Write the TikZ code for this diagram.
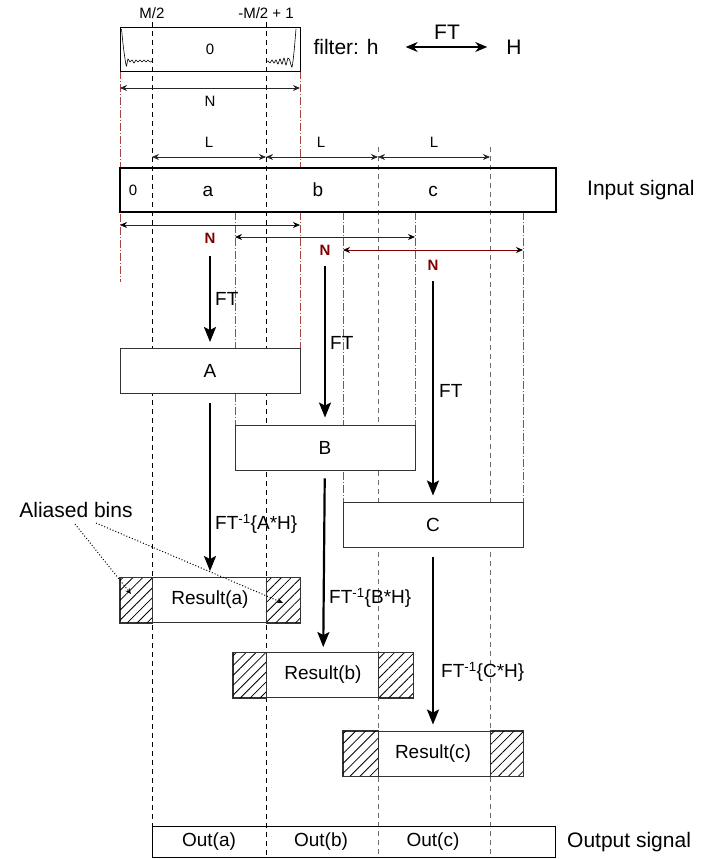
\documentclass[tikz,border=0pt]{standalone}
\usepackage{fontspec}
\setmainfont{Liberation Sans}
\usetikzlibrary{arrows.meta,calc,patterns.meta,positioning}
\definecolor{winRed}{HTML}{A84440}
\definecolor{nRed}{HTML}{800000}
\definecolor{guideGray}{HTML}{6E6E6E}

\tikzset{
  guide/.style={dashed,line width=0.9pt,dash pattern=on 5pt off 4pt},
  win/.style={winRed,line width=0.9pt,dash pattern=on 8pt off 2pt on 1pt off 2pt},
  blk/.style={draw=black!80,fill=white,line width=0.9pt,minimum width=180pt,
    minimum height=45pt,inner sep=0pt,font=\fontsize{19}{21}\selectfont},
  sig/.style={draw,line width=1.2pt,inner sep=0pt},
  flow/.style={line width=2.2pt,-{Stealth[length=15pt,width=12pt,inset=3pt]}},
  dim/.style={black!85,line width=0.8pt,{Stealth[length=7pt,width=6pt]}-{Stealth[length=7pt,width=6pt]}},
  nspan/.style={nRed,line width=0.8pt,{Stealth[length=7pt,width=6pt,color=black]}-{Stealth[length=7pt,width=6pt,color=black]}},
  hatch/.style={draw=black!80,line width=0.9pt,pattern={Lines[angle=45,distance=7pt,line width=0.8pt]}},
  small/.style={font=\fontsize{15}{17}\selectfont,inner sep=0pt},
  mid/.style={font=\fontsize{19}{21}\selectfont,inner sep=0pt},
  big/.style={font=\fontsize{21}{24}\selectfont,inner sep=0pt},
  nlbl/.style={nRed,font=\fontsize{15}{17}\selectfont\bfseries,inner sep=0pt},
  note/.style={line width=1pt,dotted,-{Stealth[length=6pt,width=5pt]}}
}

\begin{document}
\begin{tikzpicture}[x=1pt,y=-1pt,>=Stealth]
  \useasboundingbox (0,0) rectangle (706,859);

  % block boundaries
  \draw[guide] (152,22) -- (152,826);
  \draw[guide] (266,22) -- (266,857);
  \draw[guide,guideGray] (378,147) -- (378,857);
  \draw[guide,guideGray] (490,147) -- (490,857);

  % FFT windows
  \draw[win] (120,71) -- (120,282);
  \draw[win] (300,71) -- (300,168) (300,212) -- (300,348);
  \draw[win] (235,212) -- (235,425) (415,212) -- (415,425);
  \draw[win] (343,212) -- (343,502) (523,212) -- (523,502);

  % filter
  \node[sig,line width=0.9pt,minimum width=180pt,minimum height=44pt,small] (filt) at (210,49) {0};
  \draw[line width=0.6pt] plot[smooth] coordinates {(121.5,29) (123.5,48) (125.5,62) (126.5,66)
    (128,59) (130,62) (132,60) (134,63) (136,60) (138,62) (140,60) (142,62) (144,60)
    (146,62) (148,60) (150,62) (152,61)};
  \draw[line width=0.6pt] plot[smooth] coordinates {(266,62) (268,61) (270,63) (272,60)
    (274,63) (276,60) (278,64) (280,59) (282,64) (284,58) (286,65) (288,58) (290,61)
    (292,67) (294,52) (296,29)};
  \node[small] (m1) at (152,13) {M/2};
  \node[small] (m2) at (266,13) {-M/2 + 1};
  \draw[dim] (120,88) -- (300,88);
  \node[small] (nf) at (210,101) {N};

  \node[big] (fh) at (346,47) {filter: h};
  \node[big] (H) at (514,47) {H};
  \draw[line width=1.6pt,{Stealth[length=12pt,width=10pt]}-{Stealth[length=12pt,width=10pt]},
    shorten <=27pt,shorten >=19pt] (fh) -- (H);
  \node[big] (ft0) at (447,32) {FT};

  % input
  \draw[dim] (152,157) -- (266,157);
  \draw[dim] (266,157) -- (378,157);
  \draw[dim] (378,157) -- (490,157);
  \node[small] at (209,142) {L};
  \node[small] at (321,142) {L};
  \node[small] at (434,142) {L};
  \node[sig,minimum width=436pt,minimum height=44pt] (inp) at (338,190) {};
  \node[small] at (133,190) {0};
  \node[mid] (sa) at (208,191) {a};
  \node[mid] (sb) at (318,190) {b};
  \node[mid] (sc) at (433,191) {c};
  \node[big,anchor=west] (inlbl) at (587,190) {Input signal};

  % overlapping windows
  \draw[nspan] (120,225) -- (300,225);
  \draw[nspan] (235,237) -- (415,237);
  \draw[nspan] (343,250) -- (523,250);
  \node[nlbl] (nA) at (210,238) {N};
  \node[nlbl] (nB) at (325,250) {N};
  \node[nlbl] (nC) at (433,265) {N};

  % spectra
  \node[blk] (A) at (210,371) {A};
  \node[blk] (B) at (325,447.5) {B};
  \node[blk] (C) at (433,524.5) {C};
  \draw[flow,shorten <=13pt,shorten >=6pt] (nA) -- (A);
  \draw[flow,shorten <=11pt,shorten >=7pt] (nB) -- (B);
  \draw[flow,shorten <=11pt,shorten >=6pt] (nC) -- (C);
  \node[mid,anchor=west] at (215,299) {FT};
  \node[mid,anchor=west] at (330,343) {FT};
  \node[mid,anchor=west] at (439,391) {FT};

  % results
  \node[blk] (Ra) at (210,600) {Result(a)};
  \node[blk] (Rb) at (323,675) {Result(b)};
  \node[blk] (Rc) at (433,753.5) {Result(c)};
  \path[hatch] (Ra.north west) rectangle (Ra.south -| 152,0);
  \path[hatch] (Ra.north -| 266,0) rectangle (Ra.south east);
  \path[hatch] (Rb.north west) rectangle (Rb.south -| 266,0);
  \path[hatch] (Rb.north -| 378,0) rectangle (Rb.south east);
  \path[hatch] (Rc.north west) rectangle (Rc.south -| 378,0);
  \path[hatch] (Rc.north -| 490,0) rectangle (Rc.south east);
  \draw[flow,shorten <=9pt,shorten >=6pt] (A) -- (Ra);
  \draw[flow,shorten <=8pt,shorten >=5pt] (B) -- (Rb);
  \draw[flow,shorten <=10pt,shorten >=6pt] (C) -- (Rc);
  \node[mid,anchor=west] at (215,524) {FT\textsuperscript{-1}\{A*H\}};
  \node[mid,anchor=west] at (329,598) {FT\textsuperscript{-1}\{B*H\}};
  \node[mid,anchor=west] at (441,672) {FT\textsuperscript{-1}\{C*H\}};

  % aliased bins
  \node[big] (alias) at (76,510) {Aliased bins};
  \coordinate (hA) at (131,594);
  \coordinate (hB) at (283,603);
  \draw[note] (75,524) -- (hA);
  \draw[note] (96,523) -- (hB);

  % output
  \node[sig,line width=0.9pt,minimum width=403pt,minimum height=31pt] (outp) at (353.5,841.5) {};
  \node[mid] at (209,842) {Out(a)};
  \node[mid] at (321,842) {Out(b)};
  \node[mid] at (433,842) {Out(c)};
  \node[big,anchor=west] (outlbl) at (567,842) {Output signal};
\end{tikzpicture}
\end{document}
